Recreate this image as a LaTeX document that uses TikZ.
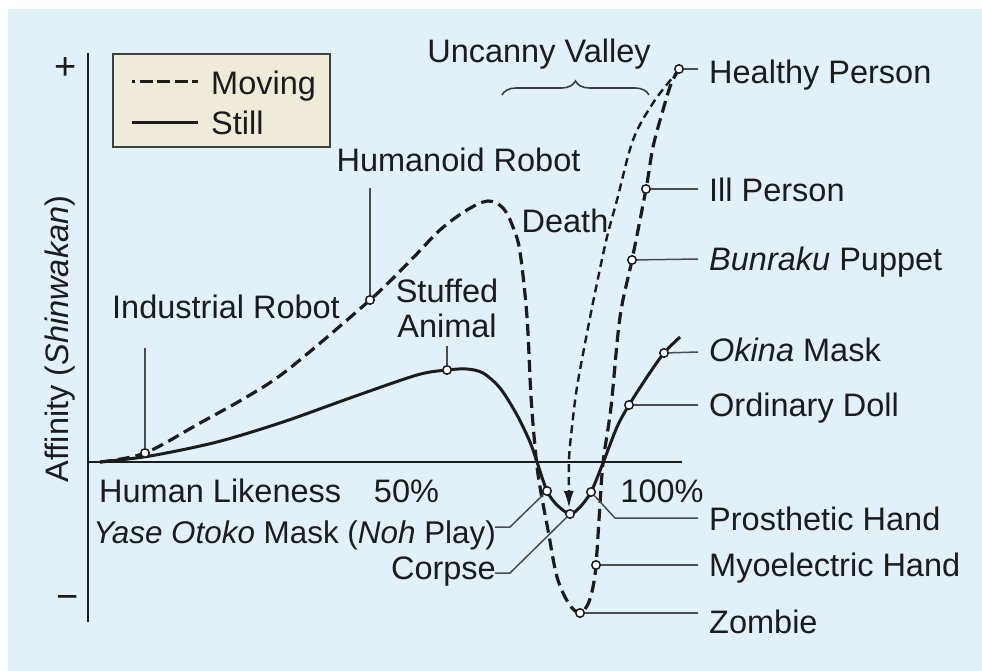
\documentclass[tikz,border=0pt]{standalone}
\usepackage{fontspec}
\setmainfont{Liberation Sans}
\usetikzlibrary{arrows.meta,decorations.pathreplacing}
\definecolor{bgblue}{HTML}{E2F0F7}
\definecolor{legfill}{HTML}{EEEBD8}
\definecolor{ink}{HTML}{1C1C1C}

\begin{document}
\begin{tikzpicture}[x=1pt,y=-1pt,
  lbl/.style={font=\fontsize{32.5}{36}\selectfont, text=ink, inner sep=0pt},
  mk/.style={circle, draw=ink, fill=white, line width=1.5pt, inner sep=0pt, minimum size=8.5pt},
  leader/.style={draw=black!70, line width=1.5pt},
  movingcurve/.style={draw=ink, line width=3.2pt, dash pattern=on 12pt off 6pt},
  stillcurve/.style={draw=ink, line width=3pt},
  deathcurve/.style={draw=ink, line width=2.4pt, dash pattern=on 8pt off 5pt},
  axisline/.style={draw=ink, line width=2.4pt}]

% canvas and panel
\useasboundingbox (0,0) rectangle (982,671);
\fill[white] (0,0) rectangle (982,671);
\fill[bgblue] (8,9) rectangle (982,671);

% axes
\draw[axisline] (88,53) -- (88,622);
\draw[axisline] (88,462) -- (682,462);
\node[lbl, font=\fontsize{38}{40}\selectfont] (plus) at (65.5,68.5) {+};
\node[lbl, font=\fontsize{38}{40}\selectfont] (minus) at (67.5,602) {−};
\node[lbl, rotate=90, anchor=base] (ylab) at (68.5,339) {Affinity (\textit{Shinwakan})};

% legend
\draw[draw=black!75, fill=legfill, line width=1.5pt] (113,54) rectangle (330,147);
\draw[draw=ink, line width=3pt, dash pattern=on 13pt off 4.5pt, dash phase=10pt] (132,82) -- (198,82);
\draw[draw=ink, line width=3pt] (132,123) -- (198,123);
\node[lbl, anchor=base west] (lmov) at (211,95) {Moving};
\node[lbl, anchor=base west] (lsti) at (211,135) {Still};

% points of interest on the curves
\coordinate (pIR) at (145,453);
\coordinate (pHR) at (370,300);
\coordinate (pSA) at (447,370);
\coordinate (pYO) at (547,491);
\coordinate (pCO) at (570,514);
\coordinate (pPH) at (591,492);
\coordinate (pZO) at (580,613);
\coordinate (pMH) at (596,565);
\coordinate (pOD) at (629,405);
\coordinate (pOM) at (664,353);
\coordinate (pBP) at (632,260);
\coordinate (pIP) at (646,189);
\coordinate (pHP) at (679,69);

% still curve
\draw[stillcurve] plot[smooth, tension=0.5] coordinates {
  (100,462) (150,456) (217,442) (283,422) (350,398) (417,375) (pSA)
  (467,369) (483,373) (500,388) (517,415) (530,442) (537,462) (pYO) (557,505)
  (pCO) (580,507) (pPH) (603,463) (617,427) (pOD) (647,377) (pOM) (680,337)};

% moving curve
\draw[movingcurve] plot[smooth, tension=0.55] coordinates {
  (100,462) (pIR) (200,423) (250,395) (290,368) (pHR) (410,261) (440,230) (467,210)
  (488,201) (503,208) (513,227) (520,252) (527,317) (531,397) (536,457)
  (540,487) (548,530) (557,577) (569,604) (pZO) (588,604) (593,587) (pMH)
  (599,520) (603,463) (611,407) (620,317) (pBP) (pIP) (653,147) (663,110)
  (671,84) (pHP)};

% death path
\draw[deathcurve, -{Latex[length=17pt,width=10pt]}] plot[smooth, tension=0.55] coordinates {
  (pHP) (673,77) (653,103) (633,140) (617,200) (607,237) (597,283) (587,333)
  (577,387) (572,427) (569,460) (569,508)};

% markers
\foreach \p in {IR,HR,SA,YO,CO,PH,ZO,MH,OD,OM,BP,IP,HP}
  \node[mk] (m\p) at (p\p) {};

% free ends of leader lines
\coordinate (eIR) at (145,348);
\coordinate (eHR) at (370,188);
\coordinate (eSA) at (447,346);
\coordinate (eHP) at (698,69);
\coordinate (eIP) at (698,189);
\coordinate (eBP) at (698,259);
\coordinate (eOM) at (698,352);
\coordinate (eOD) at (698,405);
\coordinate (kPH) at (615,518);
\coordinate (ePH) at (698,518);
\coordinate (eMH) at (698,565);
\coordinate (eZO) at (698,613);
\coordinate (kYO) at (510,527);
\coordinate (eYO) at (495,527);
\coordinate (kCO) at (510,573);
\coordinate (eCO) at (495,573);

% leader lines
\draw[leader] (mIR) -- (eIR);
\draw[leader] (mHR) -- (eHR);
\draw[leader] (mSA) -- (eSA);
\draw[leader] (mHP) -- (eHP);
\draw[leader] (mIP) -- (eIP);
\draw[leader] (mBP) -- (eBP);
\draw[leader] (mOM) -- (eOM);
\draw[leader] (mOD) -- (eOD);
\draw[leader] (mPH) -- (kPH) -- (ePH);
\draw[leader] (mMH) -- (eMH);
\draw[leader] (mZO) -- (eZO);
\draw[leader] (mYO) -- (kYO) -- (eYO);
\draw[leader] (mCO) -- (kCO) -- (eCO);

% brace over the valley
\draw[draw=ink!85, line width=1.6pt, decorate, decoration={brace, amplitude=14pt}]
  (502,95) -- (649,95);

% labels
\node[lbl, anchor=base] (tUV) at (539,63) {Uncanny Valley};
\node[lbl, anchor=base] (tIR) at (226,318) {Industrial Robot};
\node[lbl, anchor=base] (tHR) at (458.5,172) {Humanoid Robot};
\node[lbl, anchor=base] (tSA1) at (447,302) {Stuffed};
\node[lbl, anchor=base] (tSA2) at (447,337) {Animal};
\node[lbl, anchor=base] (tDE) at (565,232) {Death};
\node[lbl, anchor=base west] (tHL) at (99,502) {Human Likeness};
\node[lbl, anchor=base] (t50) at (406.5,502) {50\%};
\node[lbl, anchor=base] (t100) at (662,502) {100\%};
\node[lbl, anchor=base east, font=\fontsize{31.4}{36}\selectfont] (tYO) at (496,543) {\textit{Yase Otoko} Mask (\textit{Noh} Play)};
\node[lbl, anchor=base east] (tCO) at (496,579) {Corpse};

\node[lbl, anchor=base west] (tHP) at (709,84) {Healthy Person};
\node[lbl, anchor=base west] (tIP) at (709,201.5) {Ill Person};
\node[lbl, anchor=base west] (tBP) at (709,270.5) {\textit{Bunraku} Puppet};
\node[lbl, anchor=base west] (tOM) at (709,361.5) {\textit{Okina} Mask};
\node[lbl, anchor=base west] (tOD) at (709,416.5) {Ordinary Doll};
\node[lbl, anchor=base west] (tPH) at (709,530.5) {Prosthetic Hand};
\node[lbl, anchor=base west] (tMH) at (709,576.5) {Myoelectric Hand};
\node[lbl, anchor=base west] (tZO) at (709,633) {Zombie};
\end{tikzpicture}
\end{document}
